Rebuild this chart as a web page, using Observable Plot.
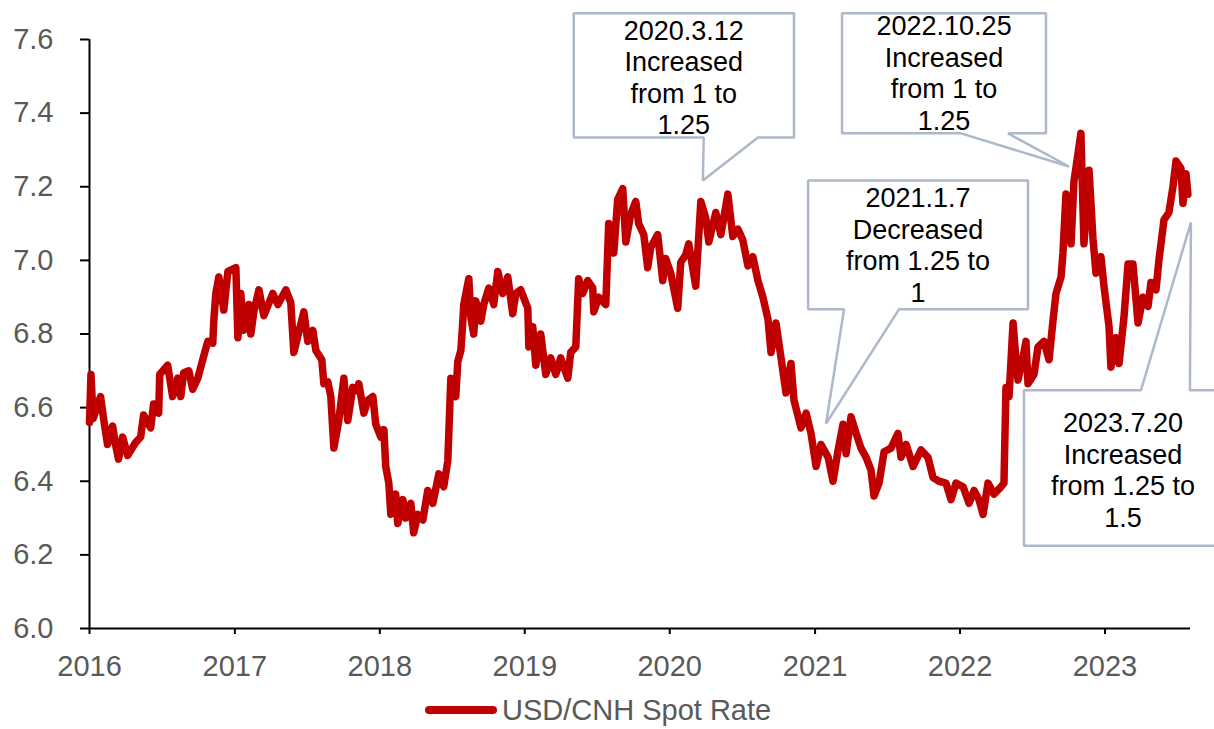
<!DOCTYPE html>
<html>
<head>
<meta charset="utf-8">
<script src="https://cdn.jsdelivr.net/npm/d3@7"></script>
<script src="https://cdn.jsdelivr.net/npm/@observablehq/plot@0.6"></script>
<style>
  html, body { margin: 0; padding: 0; background: #fff; overflow: hidden; }
  body { font-family: "Liberation Sans", Arial, sans-serif; width: 1214px; height: 729px; position: relative; }
  #legend { position: absolute; left: 425px; top: 692px; height: 36px; display: flex; align-items: center; gap: 5px;
            font-size: 29px; color: #595959; white-space: nowrap; }
</style>
</head>
<body>
<div id="chart"></div>
<div id="legend">
  <svg width="72" height="12"><line x1="4" y1="6" x2="68" y2="6" stroke="#C00000" stroke-width="8" stroke-linecap="round"/></svg>
  <span>USD/CNH Spot Rate</span>
</div>
<script>
// ---- data (decimal year, rate) ----
const decYears = [
  2016.000, 2016.010, 2016.025, 2016.076, 2016.097, 2016.124, 2016.159, 2016.179, 2016.200, 2016.228,
  2016.262, 2016.317, 2016.352, 2016.372, 2016.421, 2016.441, 2016.476, 2016.483, 2016.538, 2016.572,
  2016.607, 2016.628, 2016.648, 2016.683, 2016.710, 2016.745, 2016.779, 2016.814, 2016.848, 2016.855,
  2016.869, 2016.890, 2016.924, 2016.952, 2017.007, 2017.021, 2017.041, 2017.062, 2017.097, 2017.110,
  2017.131, 2017.166, 2017.200, 2017.262, 2017.297, 2017.352, 2017.386, 2017.407, 2017.441, 2017.476,
  2017.503, 2017.538, 2017.559, 2017.600, 2017.614, 2017.641, 2017.662, 2017.683, 2017.717, 2017.752,
  2017.779, 2017.814, 2017.848, 2017.855, 2017.890, 2017.917, 2017.952, 2017.972, 2018.007, 2018.028,
  2018.041, 2018.062, 2018.076, 2018.110, 2018.124, 2018.159, 2018.179, 2018.214, 2018.234, 2018.262,
  2018.297, 2018.331, 2018.366, 2018.407, 2018.441, 2018.469, 2018.490, 2018.524, 2018.538, 2018.559,
  2018.572, 2018.579, 2018.614, 2018.628, 2018.648, 2018.662, 2018.697, 2018.717, 2018.752, 2018.786,
  2018.814, 2018.848, 2018.883, 2018.917, 2018.938, 2018.972, 2019.021, 2019.028, 2019.055, 2019.076,
  2019.110, 2019.145, 2019.179, 2019.214, 2019.248, 2019.297, 2019.317, 2019.352, 2019.372, 2019.400,
  2019.434, 2019.469, 2019.476, 2019.510, 2019.559, 2019.579, 2019.614, 2019.641, 2019.676, 2019.697,
  2019.731, 2019.766, 2019.786, 2019.821, 2019.848, 2019.869, 2019.917, 2019.952, 2019.972, 2020.007,
  2020.055, 2020.076, 2020.110, 2020.131, 2020.179, 2020.214, 2020.248, 2020.269, 2020.317, 2020.352,
  2020.400, 2020.434, 2020.469, 2020.503, 2020.538, 2020.572, 2020.607, 2020.641, 2020.676, 2020.697,
  2020.731, 2020.766, 2020.800, 2020.834, 2020.855, 2020.903, 2020.938, 2020.972, 2021.007, 2021.041,
  2021.090, 2021.124, 2021.159, 2021.193, 2021.214, 2021.248, 2021.283, 2021.317, 2021.352, 2021.386,
  2021.407, 2021.441, 2021.476, 2021.524, 2021.572, 2021.593, 2021.628, 2021.676, 2021.731, 2021.779,
  2021.814, 2021.855, 2021.903, 2021.938, 2021.972, 2022.021, 2022.062, 2022.097, 2022.131, 2022.159,
  2022.193, 2022.234, 2022.283, 2022.303, 2022.317, 2022.338, 2022.366, 2022.386, 2022.400, 2022.434,
  2022.455, 2022.469, 2022.510, 2022.538, 2022.579, 2022.614, 2022.641, 2022.662, 2022.697, 2022.710,
  2022.731, 2022.766, 2022.786, 2022.814, 2022.834, 2022.855, 2022.890, 2022.917, 2022.938, 2022.972,
  2022.993, 2023.028, 2023.041, 2023.076, 2023.097, 2023.131, 2023.159, 2023.193, 2023.228, 2023.262,
  2023.297, 2023.317, 2023.352, 2023.372, 2023.407, 2023.441, 2023.469, 2023.490, 2023.524, 2023.538,
  2023.559, 2023.572
];
const rates = [
  6.56, 6.69, 6.57, 6.63, 6.57, 6.50, 6.55, 6.50, 6.46, 6.52,
  6.47, 6.505, 6.52, 6.58, 6.545, 6.61, 6.585, 6.69, 6.715, 6.63,
  6.68, 6.63, 6.695, 6.70, 6.65, 6.68, 6.73, 6.78, 6.775, 6.835,
  6.91, 6.955, 6.865, 6.97, 6.98, 6.79, 6.91, 6.81, 6.88, 6.80,
  6.86, 6.92, 6.85, 6.91, 6.88, 6.92, 6.885, 6.75, 6.805, 6.86,
  6.78, 6.81, 6.755, 6.73, 6.665, 6.67, 6.63, 6.49, 6.565, 6.68,
  6.565, 6.655, 6.645, 6.665, 6.585, 6.62, 6.63, 6.555, 6.52, 6.54,
  6.44, 6.395, 6.31, 6.365, 6.285, 6.35, 6.30, 6.34, 6.26, 6.31,
  6.295, 6.375, 6.34, 6.42, 6.385, 6.455, 6.68, 6.63, 6.725, 6.755,
  6.83, 6.88, 6.95, 6.845, 6.80, 6.89, 6.835, 6.88, 6.925, 6.88,
  6.97, 6.91, 6.955, 6.855, 6.91, 6.92, 6.87, 6.765, 6.82, 6.715,
  6.80, 6.69, 6.735, 6.69, 6.735, 6.68, 6.75, 6.765, 6.95, 6.91,
  6.945, 6.925, 6.86, 6.90, 6.88, 7.10, 7.02, 7.165, 7.195, 7.05,
  7.125, 7.16, 7.10, 7.07, 6.98, 7.035, 7.07, 6.945, 7.005, 6.965,
  6.87, 6.995, 7.015, 7.045, 6.93, 7.16, 7.115, 7.05, 7.13, 7.07,
  7.18, 7.065, 7.085, 7.055, 6.985, 7.01, 6.945, 6.90, 6.84, 6.75,
  6.83, 6.735, 6.64, 6.72, 6.62, 6.545, 6.585, 6.53, 6.44, 6.50,
  6.465, 6.40, 6.485, 6.555, 6.475, 6.575, 6.53, 6.49, 6.465, 6.43,
  6.36, 6.395, 6.48, 6.49, 6.53, 6.465, 6.50, 6.44, 6.485, 6.465,
  6.41, 6.40, 6.395, 6.35, 6.395, 6.385, 6.34, 6.375, 6.35, 6.31,
  6.395, 6.365, 6.385, 6.395, 6.655, 6.63, 6.83, 6.73, 6.675, 6.735,
  6.78, 6.665, 6.69, 6.765, 6.78, 6.73, 6.835, 6.91, 6.955, 7.02,
  7.18, 7.045, 7.215, 7.29, 7.345, 7.045, 7.245, 7.06, 6.965, 7.01,
  6.93, 6.82, 6.71, 6.79, 6.72, 6.845, 6.99, 6.99, 6.83, 6.90,
  6.875, 6.94, 6.92, 7.00, 7.11, 7.13, 7.20, 7.27, 7.25, 7.155,
  7.235, 7.18
];
const yearTicks = [2016, 2017, 2018, 2019, 2020, 2021, 2022, 2023];
const yearLabels = ["2016", "2017", "2018", "2019", "2020", "2021", "2022", "2023"];
const rateTicks = [6.0, 6.2, 6.4, 6.6, 6.8, 7.0, 7.2, 7.4, 7.6];
const seriesName = "USD/CNH Spot Rate";

// ---- callouts (annotation boxes), in data space: [decimal year, rate] ----
const calloutLabels = [
  "2020.3.12\nIncreased\nfrom 1 to\n1.25",
  "2022.10.25\nIncreased\nfrom 1 to\n1.25",
  "2021.1.7\nDecreased\nfrom 1.25 to\n1",
  "2023.7.20\nIncreased\nfrom 1.25 to\n1.5"
];
const calloutTextPos = [[2020.097, 7.498], [2021.890, 7.510], [2021.710, 7.043], [2023.124, 6.432]];
const calloutShapes = [
  [[2019.338, 7.671], [2020.855, 7.671], [2020.855, 7.334], [2020.607, 7.334], [2020.228, 7.217], [2020.234, 7.334], [2019.338, 7.334]],
  [[2021.186, 7.671], [2022.593, 7.671], [2022.593, 7.345], [2022.331, 7.345], [2022.752, 7.255], [2022.007, 7.345], [2021.186, 7.345]],
  [[2020.952, 7.217], [2022.469, 7.217], [2022.469, 6.867], [2021.579, 6.867], [2021.076, 6.557], [2021.200, 6.867], [2020.952, 6.867]],
  [[2022.441, 6.647], [2023.248, 6.647], [2023.593, 7.103], [2023.586, 6.647], [2023.938, 6.647], [2023.938, 6.225], [2022.441, 6.225]]
];

function yd(v) {
  const y = Math.floor(v);
  const a = Date.UTC(y, 0, 1), b = Date.UTC(y + 1, 0, 1);
  return new Date(a + (v - y) * (b - a));
}

const data = decYears.map((t, i) => ({date: yd(t), rate: rates[i]}));
const shapeMarks = calloutShapes.map(s =>
  Plot.line(s.map(([t, v]) => ({date: yd(t), rate: v})), {
    x: "date", y: "rate", curve: "linear-closed",
    stroke: "#ADB9CA", strokeWidth: 2.5, fill: "white", strokeLinejoin: "miter"
  })
);
const textData = calloutLabels.map((l, i) => ({label: l, date: yd(calloutTextPos[i][0]), rate: calloutTextPos[i][1]}));

const chart = Plot.plot({
  width: 1214,
  height: 690,
  marginLeft: 89,
  marginRight: 24,
  marginTop: 39,
  marginBottom: 62,
  x: {type: "utc", domain: [yd(2016), yd(2023.59)]},
  y: {domain: [6.0, 7.6]},
  style: {fontFamily: "'Liberation Sans', Arial, sans-serif", fontSize: "29px", background: "white", overflow: "visible"},
  marks: [
    Plot.axisY({ticks: rateTicks, tickFormat: d => d.toFixed(1), tickSize: 9, tickPadding: 27,
                stroke: "black", strokeWidth: 2, fill: "#595959", fontSize: 29, label: null}),
    Plot.axisX({ticks: yearTicks.map(yd), tickFormat: (d, i) => yearLabels[yearTicks.indexOf(d.getUTCFullYear())],
                tickSize: 6, tickPadding: 21, stroke: "black", strokeWidth: 2, fill: "#595959", fontSize: 29, label: null}),
    Plot.ruleX([yd(2016)], {stroke: "black", strokeWidth: 2}),
    Plot.ruleY([6.0], {stroke: "black", strokeWidth: 2}),
    Plot.line(data, {x: "date", y: "rate", stroke: "#C00000", strokeWidth: 7.5,
                     strokeLinejoin: "round", strokeLinecap: "round"}),
    ...shapeMarks,
    Plot.text(textData, {x: "date", y: "rate", text: "label", fontSize: 27, lineHeight: 1.167,
                         fill: "black", textAnchor: "middle", lineAnchor: "middle"})
  ]
});
document.getElementById("chart").appendChild(chart);
</script>
</body>
</html>
